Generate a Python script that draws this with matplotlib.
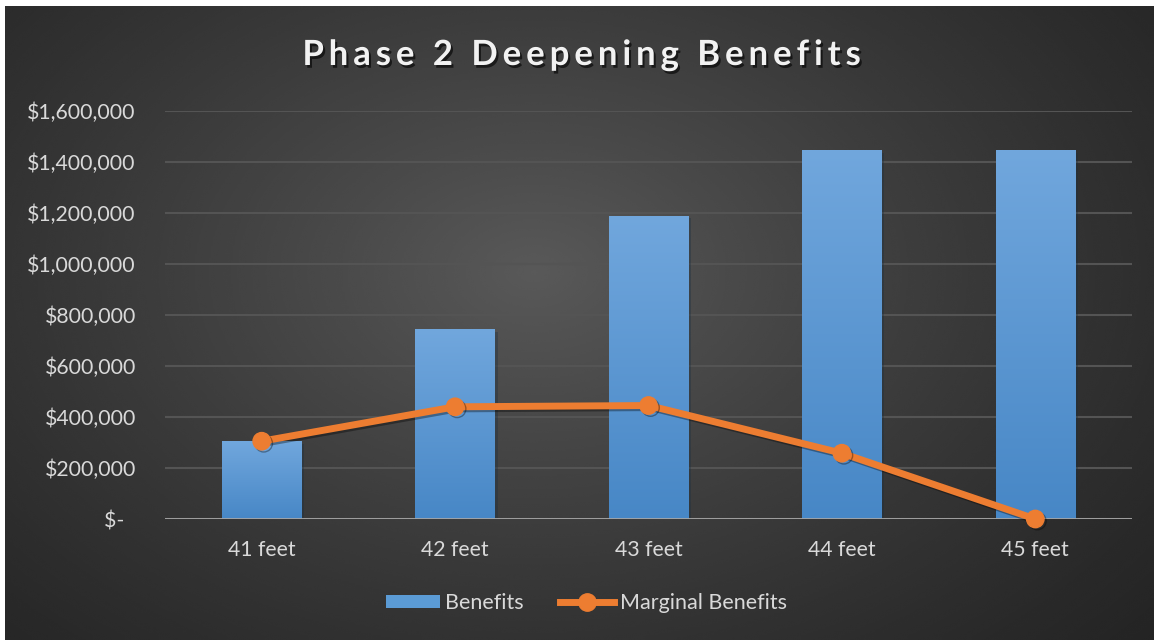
import matplotlib
matplotlib.use('Agg')
import matplotlib.pyplot as plt
import matplotlib.patheffects as pe
import numpy as np
from matplotlib.colors import LinearSegmentedColormap
from matplotlib.lines import Line2D
from matplotlib.patches import Patch

depths = ['41 feet', '42 feet', '43 feet', '44 feet', '45 feet']
benefits = [305000, 745000, 1190000, 1448000, 1448000]
marginal = [305000, 440000, 445000, 258000, 0]
yticks = [0, 200000, 400000, 600000, 800000, 1000000, 1200000, 1400000, 1600000]

W, H = 1154, 640
TXT = '#D9D9D9'
plt.rcParams['font.family'] = ['Lato', 'DejaVu Sans']


def money(v):
    if v == 0:
        return '$-  '
    return '${:,.0f}'.format(v)


def tracked_title(fig, xc, ybase, s, tracking, **kw):
    # lay out the title one glyph at a time to get wider letter spacing
    r = fig.canvas.get_renderer()

    def width(t):
        tt = fig.text(0, 0, t, **kw)
        w = tt.get_window_extent(r).width
        tt.remove()
        return w

    total = width(s) + tracking * (len(s) - 1)
    x0 = xc * fig.bbox.width - total / 2
    for i, ch in enumerate(s):
        if ch == ' ':
            continue
        right = width(s[:i + 1])
        left = right - width(ch)
        fig.text((x0 + left + tracking * i) / fig.bbox.width, ybase, ch,
                 ha='left', va='baseline', **kw)


fig = plt.figure(figsize=(W / 100, H / 100), dpi=100)
fig.patch.set_facecolor('white')

# dark backdrop with a soft radial glow
bg = fig.add_axes([5 / W, 0, 1 - 5 / W, 1 - 6 / H])
bg.set_axis_off()
yy, xx = np.mgrid[0:1:320j, 0:1:577j]
r = np.sqrt(((xx - 0.46) / 0.78) ** 2 + ((yy - 0.42) / 0.95) ** 2)
shade = np.clip(1 - r, 0, 1) ** 1.3
bg.imshow(0.135 + 0.215 * shade, cmap='gray', vmin=0, vmax=1,
          aspect='auto', extent=[0, 1, 0, 1], origin='upper', interpolation='bicubic')
bg.set_xlim(0, 1)
bg.set_ylim(0, 1)

ax = fig.add_axes([165 / W, 121 / H, 967 / W, 408 / H])
ax.set_facecolor('none')
x = np.arange(len(depths))

bars = ax.bar(x, benefits, width=0.41, color='#5B9BD5', zorder=2,
              path_effects=[pe.SimplePatchShadow(offset=(2, -2), alpha=0.35), pe.Normal()])
bar_cmap = LinearSegmentedColormap.from_list('bar', ['#4787C6', '#71A7DD'])
grad = np.linspace(0, 1, 256).reshape(-1, 1)
for b in bars:
    im = ax.imshow(grad, cmap=bar_cmap, origin='lower', aspect='auto', zorder=2.1,
                   extent=[b.get_x(), b.get_x() + b.get_width(), 0, b.get_height()])
    im.set_clip_path(b)

ax.plot(x, marginal, color='#ED7D31', lw=5, marker='o', ms=12.5, zorder=4, clip_on=False,
        path_effects=[pe.SimpleLineShadow(offset=(1.5, -1.5), alpha=0.35), pe.Normal()])

ax.set_xlim(-0.5, len(depths) - 0.5)
ax.set_ylim(0, 1600000)
ax.set_yticks(yticks)
ax.set_yticklabels([money(v) for v in yticks])
ax.set_xticks(x)
ax.set_xticklabels(depths)
ax.yaxis.grid(True, color='#545454', lw=1.5, zorder=0)
ax.set_axisbelow(True)
ax.axhline(0, color='#A6A6A6', lw=2, zorder=3)
for s in ax.spines.values():
    s.set_visible(False)
ax.tick_params(axis='both', length=0, labelsize=15.3, labelcolor=TXT)
ax.tick_params(axis='y', pad=21)
ax.tick_params(axis='x', pad=15)

handles = [Patch(facecolor='#5B9BD5', edgecolor='none', label='Benefits'),
           Line2D([], [], color='#ED7D31', lw=5, marker='o', ms=12.5, label='Marginal Benefits')]
fig.legend(handles=handles, loc='center', bbox_to_anchor=(0.508, 37 / H), ncol=2,
           frameon=False, fontsize=15.5, labelcolor=TXT, handlelength=2.5,
           handleheight=0.6, handletextpad=0.25, columnspacing=1.7)

tracked_title(fig, 0.504, 1 - 65 / H, 'Phase 2 Deepening Benefits', 4.9,
              fontsize=25, fontweight='bold', color='#F2F2F2',
              path_effects=[pe.withSimplePatchShadow(offset=(1.5, -2), alpha=0.6,
                                                     shadow_rgbFace='black')])

fig.savefig('out.png', dpi=100, facecolor=fig.get_facecolor())
